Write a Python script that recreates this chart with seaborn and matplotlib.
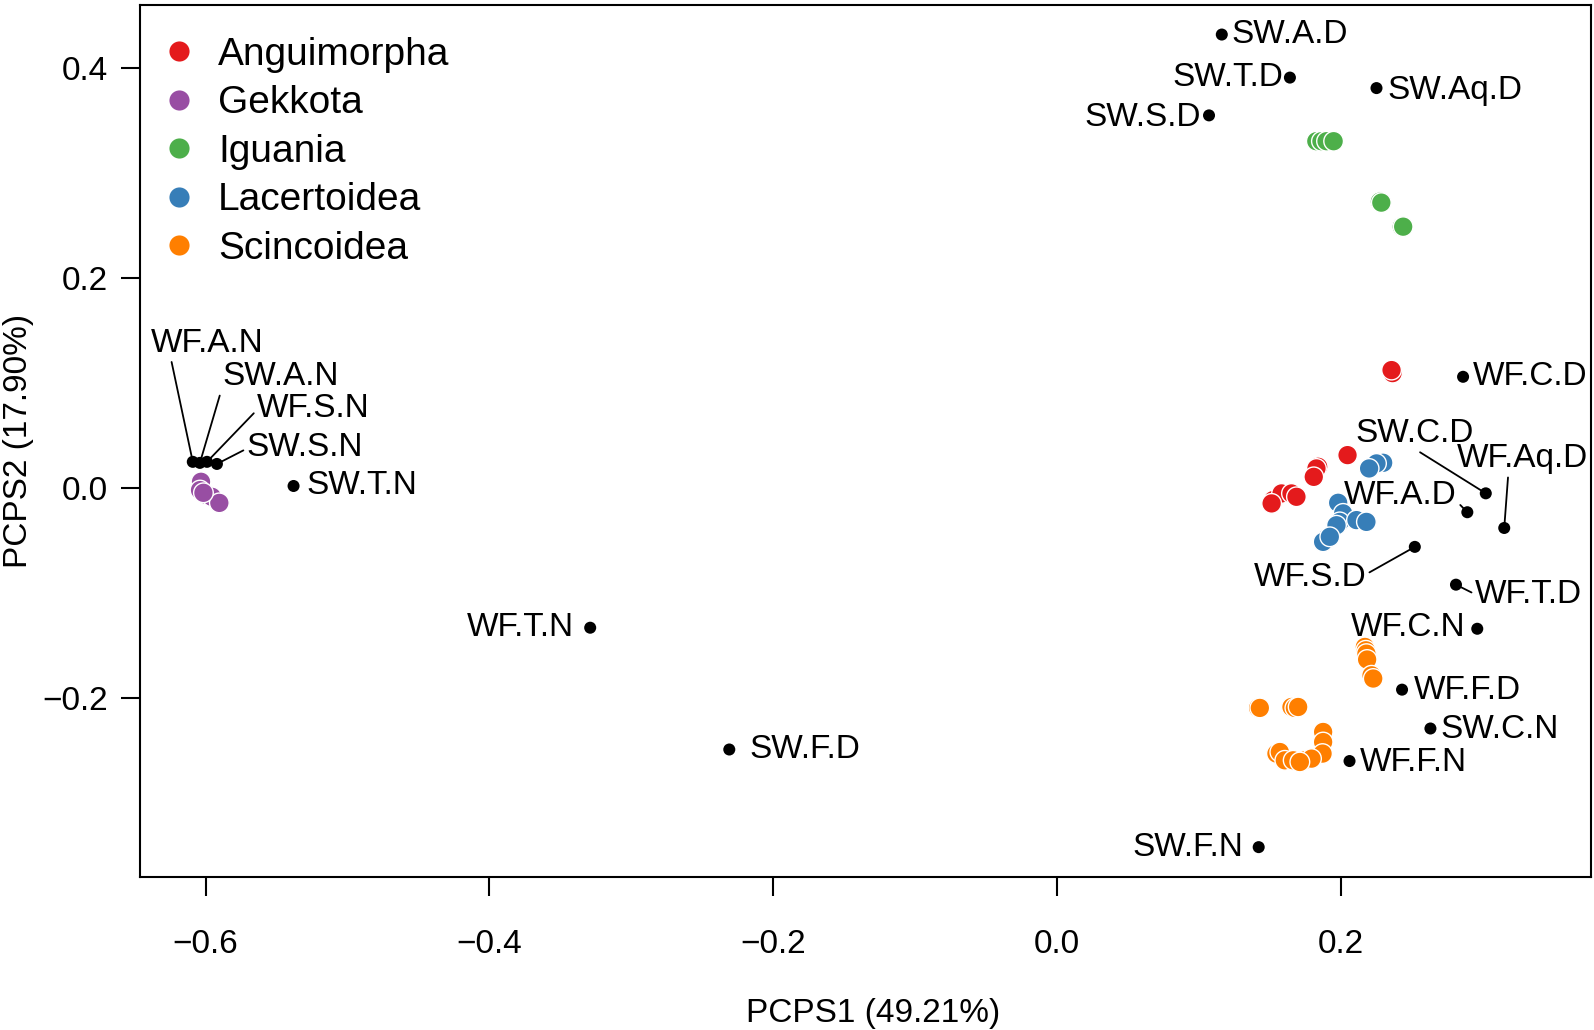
import pandas as pd
import matplotlib
matplotlib.use("Agg")
import matplotlib.pyplot as plt
import seaborn as sns

# clade scores (PCPS1, PCPS2)
anguimorpha_x = [0.2363, 0.2356, 0.2046, 0.1839, 0.1827, 0.1808, 0.1522, 0.1581, 0.1651, 0.1686, 0.1511]
anguimorpha_y = [0.1095, 0.1124, 0.0314, 0.0203, 0.0187, 0.0107, -0.0114, -0.0051, -0.0051, -0.0083, -0.0146]
gekkota_x = [-0.6032, -0.6039, -0.5991, -0.5956, -0.5903, -0.6015]
gekkota_y = [0.0060, -0.0019, -0.0067, -0.0083, -0.0141, -0.0045]
iguania_x = [0.1826, 0.1862, 0.1898, 0.1948, 0.2274, 0.2284, 0.2428, 0.2438]
iguania_y = [0.3304, 0.3304, 0.3304, 0.3304, 0.2729, 0.2719, 0.2490, 0.2490]
lacertoidea_x = [0.2297, 0.2250, 0.2198, 0.1980, 0.2015, 0.1991, 0.2109, 0.2179, 0.1968, 0.1898, 0.1874, 0.1921]
lacertoidea_y = [0.0241, 0.0235, 0.0187, -0.0140, -0.0241, -0.0322, -0.0305, -0.0322, -0.0354, -0.0480, -0.0512, -0.0464]
scincoidea_x = [0.2168, 0.2175, 0.2179, 0.2184, 0.2215, 0.2227, 0.1416, 0.1428, 0.1651, 0.1675, 0.1698,
                0.1874, 0.1874, 0.1870, 0.1545, 0.1569, 0.1604, 0.1663, 0.1745, 0.1792, 0.1710]
scincoidea_y = [-0.1513, -0.1545, -0.1577, -0.1633, -0.1783, -0.1814, -0.2094, -0.2094, -0.2085, -0.2094, -0.2085,
                -0.2323, -0.2419, -0.2529, -0.2529, -0.2514, -0.2593, -0.2593, -0.2593, -0.2577, -0.2609]

# trait scores (black points)
trait_names = ["SW.A.D", "SW.T.D", "SW.Aq.D", "SW.S.D", "WF.C.D", "SW.C.D", "WF.A.D", "WF.Aq.D",
               "WF.S.D", "WF.T.D", "WF.C.N", "WF.F.D", "SW.C.N", "WF.F.N", "SW.F.N", "WF.T.N",
               "SW.F.D", "SW.T.N", "WF.A.N", "SW.A.N", "WF.S.N", "SW.S.N"]
trait_x = [0.116, 0.164, 0.225, 0.107, 0.286, 0.302, 0.289, 0.315,
           0.252, 0.281, 0.296, 0.243, 0.263, 0.206, 0.142, -0.329,
           -0.231, -0.538, -0.609, -0.604, -0.599, -0.592]
trait_y = [0.432, 0.391, 0.381, 0.355, 0.106, -0.005, -0.023, -0.038,
           -0.056, -0.092, -0.134, -0.192, -0.229, -0.260, -0.342, -0.133,
           -0.249, 0.002, 0.025, 0.024, 0.025, 0.023]
# where each trait label sits (label centre)
label_x = [0.164, 0.120, 0.280, 0.060, 0.333, 0.252, 0.242, 0.328,
           0.178, 0.332, 0.247, 0.289, 0.3115, 0.251, 0.092, -0.378,
           -0.178, -0.490, -0.599, -0.547, -0.524, -0.530]
label_y = [0.432, 0.391, 0.379, 0.353, 0.106, 0.052, -0.007, 0.028,
           -0.085, -0.101, -0.133, -0.193, -0.230, -0.261, -0.342, -0.133,
           -0.249, 0.002, 0.138, 0.106, 0.076, 0.039]
# labels joined to their point by a segment, and where on the label it leaves
line_from = {"SW.C.D": (0.5, 0.0), "WF.A.D": (1.0, 0.3), "WF.Aq.D": (0.39, 0.0),
             "WF.S.D": (1.0, 0.6), "WF.T.D": (0.0, 0.5), "WF.A.N": (0.18, 0.0),
             "SW.A.N": (0.0, 0.2), "WF.S.N": (0.0, 0.45), "SW.S.N": (0.0, 0.45)}

clades = ["Anguimorpha", "Gekkota", "Iguania", "Lacertoidea", "Scincoidea"]
colors = ["#E41A1C", "#984EA3", "#4DAF4A", "#377EB8", "#FF7F00"]

frames = []
for name, xs, ys in zip(clades,
                        [anguimorpha_x, gekkota_x, iguania_x, lacertoidea_x, scincoidea_x],
                        [anguimorpha_y, gekkota_y, iguania_y, lacertoidea_y, scincoidea_y]):
    frames.append(pd.DataFrame({"PCPS1": xs, "PCPS2": ys, "Clade": name}))
df = pd.concat(frames, ignore_index=True)
traits = pd.DataFrame({"PCPS1": trait_x, "PCPS2": trait_y, "name": trait_names})

sns.set_style("ticks")
plt.rcParams["font.family"] = ["Liberation Sans", "DejaVu Sans"]
plt.rcParams["text.color"] = "black"
plt.rcParams["axes.labelcolor"] = "black"
plt.rcParams["xtick.color"] = "black"
plt.rcParams["ytick.color"] = "black"

fig = plt.figure(figsize=(15.94, 10.30), dpi=100)
ax = fig.add_axes([0.088, 0.149, 0.910, 0.846])

sns.scatterplot(data=df, x="PCPS1", y="PCPS2", hue="Clade", hue_order=clades,
                palette=colors, s=200, edgecolor="white", linewidth=1.0, ax=ax, zorder=3)
sns.scatterplot(data=traits, x="PCPS1", y="PCPS2", color="black", s=75,
                edgecolor="none", ax=ax, legend=False, zorder=4)

for n, px, py, lx, ly in zip(trait_names, trait_x, trait_y, label_x, label_y):
    if n in line_from:
        ax.annotate(n, xy=(px, py), xytext=(lx, ly), ha="center", va="center",
                    fontsize=24, arrowprops=dict(arrowstyle="-", color="black", lw=1.3,
                                                 relpos=line_from[n], shrinkA=0, shrinkB=0))
    else:
        ax.text(lx, ly, n, ha="center", va="center", fontsize=24)

ax.set_xlim(-0.646, 0.376)
ax.set_ylim(-0.370, 0.460)
ax.set_xticks([-0.6, -0.4, -0.2, 0.0, 0.2])
ax.set_xticklabels(["\u22120.6", "\u22120.4", "\u22120.2", "0.0", "0.2"])
ax.set_yticks([-0.2, 0.0, 0.2, 0.4])
ax.set_yticklabels(["\u22120.2", "0.0", "0.2", "0.4"])
ax.tick_params(axis="both", labelsize=24, length=14, width=1.5, direction="out")
ax.tick_params(axis="x", pad=24)
ax.tick_params(axis="y", pad=9)
for sp in ax.spines.values():
    sp.set_visible(True)
    sp.set_linewidth(1.5)
    sp.set_color("black")
ax.set_xlabel("PCPS1 (49.21%)", fontsize=24, labelpad=27)
ax.xaxis.label.set_x(0.505)
ax.set_ylabel("PCPS2 (17.90%)", fontsize=24, labelpad=6)

handles, labels = ax.get_legend_handles_labels()
leg = ax.legend(handles, labels, loc="upper left", frameon=False, fontsize=28,
                handlelength=1.0, handletextpad=0.5, labelspacing=0.32,
                borderaxespad=0.1, borderpad=0.4, bbox_to_anchor=(0.0, 0.986))
for h in leg.legend_handles:
    h.set_markersize(14.5)
    h.set_markeredgewidth(0)

fig.savefig("out.png", dpi=100)
